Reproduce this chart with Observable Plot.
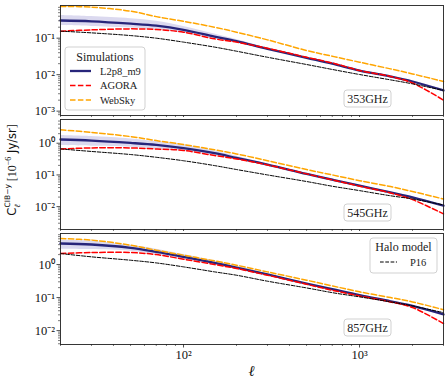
<!DOCTYPE html>
<html><head><meta charset="utf-8">
<script src="https://cdn.jsdelivr.net/npm/d3@7"></script>
<script src="https://cdn.jsdelivr.net/npm/@observablehq/plot@0.6"></script>
<style>
body{margin:0;background:#fff}
#chart{position:relative;width:448px;height:384px;overflow:hidden}
#chart > svg{position:absolute;left:0}
</style>
</head><body><div id="chart"></div>
<script>
// multipole values
const ell = [20,30,50,70,100,150,200,300,500,700,1000,1500,2000,3000];

// 353 GHz
const l2p8_353   = [0.305,0.29,0.25,0.22,0.17,0.111,0.083,0.051,0.029,0.020,0.013,0.0089,0.0065,0.0037];
const l2p8Lo_353 = [0.222,0.21,0.19,0.17,0.137,0.096,0.075,0.049,0.028,0.0192,0.0125,0.0085,0.0062,0.0035];
const l2p8Hi_353 = [0.418,0.39,0.34,0.29,0.21,0.13,0.092,0.053,0.030,0.0208,0.0135,0.0093,0.0068,0.0039];
const agora_353  = [0.156,0.169,0.18,0.173,0.146,0.096,0.078,0.053,0.030,0.021,0.013,0.0089,0.0059,0.0020];
const websky_353 = [0.74,0.71,0.55,0.39,0.29,0.20,0.146,0.090,0.046,0.032,0.022,0.0144,0.0105,0.0065];
const p16_353    = [0.156,0.14,0.118,0.10,0.078,0.057,0.044,0.030,0.019,0.0139,0.0101,0.0072,0.0056,0.0037];

// 545 GHz
const l2p8_545   = [1.31,1.21,1.02,0.885,0.695,0.483,0.344,0.212,0.108,0.071,0.046,0.028,0.0197,0.0107];
const l2p8Lo_545 = [0.84,0.80,0.75,0.66,0.56,0.41,0.30,0.203,0.104,0.068,0.044,0.027,0.0189,0.0103];
const l2p8Hi_545 = [1.75,1.62,1.37,1.13,0.89,0.57,0.39,0.221,0.112,0.074,0.048,0.029,0.0205,0.0111];
const agora_545  = [0.66,0.71,0.71,0.66,0.59,0.41,0.32,0.207,0.108,0.070,0.044,0.027,0.0166,0.0059];
const websky_545 = [2.64,2.2,1.62,1.21,0.91,0.62,0.46,0.28,0.148,0.10,0.066,0.043,0.030,0.0174];
const p16_545    = [0.66,0.55,0.44,0.36,0.28,0.197,0.148,0.10,0.062,0.044,0.032,0.022,0.0175,0.0113];

// 857 GHz
const l2p8_857   = [4.33,4.04,3.2,2.42,1.71,1.12,0.81,0.50,0.265,0.179,0.118,0.077,0.056,0.031];
const l2p8Lo_857 = [2.92,2.85,2.54,2.0,1.45,1.0,0.72,0.48,0.254,0.172,0.113,0.074,0.054,0.0298];
const l2p8Hi_857 = [5.46,5.1,3.85,2.92,2.0,1.29,0.91,0.52,0.276,0.186,0.123,0.080,0.058,0.0322];
const agora_857  = [2.15,2.31,2.31,2.0,1.45,1.0,0.76,0.475,0.253,0.167,0.112,0.074,0.05,0.0163];
const websky_857 = [6.1,5.5,3.85,2.72,1.92,1.29,0.955,0.6,0.335,0.226,0.149,0.10,0.074,0.043];
const p16_857    = [2.15,1.71,1.35,1.12,0.85,0.6,0.475,0.313,0.196,0.141,0.105,0.074,0.056,0.035];

// ticks
const xTicks = [100, 1000];
const xTickLabels = ["10²", "10³"];
const yTicks1 = [0.001, 0.01, 0.1];
const yTickLabels1 = ["10⁻³", "10⁻²", "10⁻¹"];
const yTicks23 = [0.01, 0.1, 1];
const yTickLabels23 = ["10⁻²", "10⁻¹", "10⁰"];

const simNames = ["L2p8_m9", "AGORA", "WebSky"];
const haloNames = ["P16"];

const BLUE = "#27257a";
const SERIF = "'Liberation Serif','Times New Roman',serif";

function logMinors(lo, hi) {
  const out = [];
  for (let e = Math.floor(Math.log10(lo)); e <= Math.ceil(Math.log10(hi)); e++)
    for (let m = 2; m <= 9; m++) { const v = m * Math.pow(10, e); if (v >= lo && v <= hi) out.push(v); }
  return out;
}

const chart = document.getElementById("chart");

function panel(cfg) {
  const data = ell.map((l, i) => ({l, blue: cfg.blue[i], lo: cfg.lo[i], hi: cfg.hi[i],
    agora: cfg.agora[i], websky: cfg.websky[i], p16: cfg.p16[i]}));
  const curve = "catmull-rom";
  const svg = Plot.plot({
    width: 448, height: cfg.height,
    marginLeft: 60, marginRight: 5, marginTop: cfg.mt, marginBottom: cfg.mb,
    x: {type: "log", domain: [20, 3000], axis: null},
    y: {type: "log", domain: cfg.yDomain, axis: null},
    style: {fontFamily: SERIF, fontSize: "12.5px", color: "#111", background: "transparent"},
    marks: [
      Plot.areaY(data, {x: "l", y1: "lo", y2: "hi", fill: "#5b54b8", fillOpacity: 0.22, curve}),
      Plot.lineY(data, {x: "l", y: "blue", stroke: BLUE, strokeWidth: 2.3, curve}),
      Plot.lineY(data, {x: "l", y: "agora", stroke: "#ff0000", strokeWidth: 1.5, strokeDasharray: "5.5,2.4", curve}),
      Plot.lineY(data, {x: "l", y: "websky", stroke: "#ffa500", strokeWidth: 1.5, strokeDasharray: "5.5,2.4", curve}),
      Plot.lineY(data, {x: "l", y: "p16", stroke: "#000", strokeWidth: 1, strokeDasharray: "3.7,1.6", curve}),
      Plot.frame({stroke: "#222", strokeWidth: 0.9}),
      Plot.axisY(cfg.yTicks, {tickSize: 3.5, tickPadding: 2, strokeWidth: 0.8, stroke: "#222",
        tickFormat: d => cfg.yLabels[cfg.yTicks.indexOf(d)], fontSize: 12.5, label: null}),
      Plot.axisY(logMinors(...cfg.yDomain), {tickSize: 2, strokeWidth: 0.6, stroke: "#222", tickFormat: () => "", label: null}),
      Plot.axisX(xTicks, {tickSize: 3.5, tickPadding: 2, strokeWidth: 0.8, stroke: "#222",
        tickFormat: d => cfg.showX ? xTickLabels[xTicks.indexOf(d)] : "", fontSize: 12.5, label: null}),
      Plot.axisX(logMinors(20, 3000), {tickSize: 2, strokeWidth: 0.6, stroke: "#222", tickFormat: () => "", label: null})
    ]
  });
  svg.style.top = cfg.top + "px";
  chart.appendChild(svg);
  const s = d3.select(svg);
  // frequency label box
  const fb = cfg.height - cfg.mb - 16.5;
  const g = s.append("g");
  g.append("rect").attr("x", 344).attr("y", fb - 8.5).attr("width", 47).attr("height", 17).attr("rx", 3)
    .attr("fill", "white").attr("fill-opacity", 0.8).attr("stroke", "#cccccc").attr("stroke-width", 0.9);
  g.append("text").attr("x", 367.5).attr("y", fb).attr("dy", "0.35em").attr("text-anchor", "middle")
    .attr("font-family", SERIF).attr("font-size", 12).attr("fill", "#222").text(cfg.freq);
  return s;
}

// Panel 1
const s1 = panel({top: 0, height: 117, mt: 5, mb: 2, yDomain: [7.6e-4, 0.787], yTicks: yTicks1, yLabels: yTickLabels1,
  blue: l2p8_353, lo: l2p8Lo_353, hi: l2p8Hi_353, agora: agora_353, websky: websky_353, p16: p16_353, freq: "353GHz", showX: false});
// Panel 2
panel({top: 117, height: 114, mt: 2, mb: 2, yDomain: [0.0019, 5.6], yTicks: yTicks23, yLabels: yTickLabels23,
  blue: l2p8_545, lo: l2p8Lo_545, hi: l2p8Hi_545, agora: agora_545, websky: websky_545, p16: p16_545, freq: "545GHz", showX: false});
// Panel 3
const s3 = panel({top: 231, height: 153, mt: 2, mb: 40, yDomain: [0.0038, 8.7], yTicks: yTicks23, yLabels: yTickLabels23,
  blue: l2p8_857, lo: l2p8Lo_857, hi: l2p8Hi_857, agora: agora_857, websky: websky_857, p16: p16_857, freq: "857GHz", showX: true});

// Simulations legend (panel 1)
{
  const g = s1.append("g").attr("font-family", SERIF).attr("fill", "#222");
  g.append("rect").attr("x", 65).attr("y", 47).attr("width", 80).attr("height", 63).attr("rx", 3)
    .attr("fill", "white").attr("fill-opacity", 0.8).attr("stroke", "#cccccc").attr("stroke-width", 0.9);
  g.append("text").attr("x", 105).attr("y", 56.5).attr("dy", "0.35em").attr("text-anchor", "middle")
    .attr("font-size", 12).text("Simulations");
  const styles = [
    {stroke: BLUE, w: 2.3, dash: null},
    {stroke: "#ff0000", w: 1.5, dash: "5.5,2.4"},
    {stroke: "#ffa500", w: 1.5, dash: "5.5,2.4"}
  ];
  const ys = [71, 85.5, 100];
  simNames.forEach((n, i) => {
    const ln = g.append("line").attr("x1", 70).attr("x2", 91).attr("y1", ys[i]).attr("y2", ys[i])
      .attr("stroke", styles[i].stroke).attr("stroke-width", styles[i].w);
    if (styles[i].dash) ln.attr("stroke-dasharray", styles[i].dash);
    g.append("text").attr("x", 100).attr("y", ys[i]).attr("dy", "0.35em").attr("text-anchor", "start")
      .attr("font-size", 10.5).text(n);
  });
}
// Halo model legend (panel 3)
{
  const g = s3.append("g").attr("font-family", SERIF).attr("fill", "#222");
  g.append("rect").attr("x", 370).attr("y", 7).attr("width", 67).attr("height", 35).attr("rx", 3)
    .attr("fill", "white").attr("fill-opacity", 0.8).attr("stroke", "#cccccc").attr("stroke-width", 0.9);
  g.append("text").attr("x", 403.5).attr("y", 16).attr("dy", "0.35em").attr("text-anchor", "middle")
    .attr("font-size", 12).text("Halo model");
  g.append("line").attr("x1", 380).attr("x2", 397).attr("y1", 31).attr("y2", 31)
    .attr("stroke", "#000").attr("stroke-width", 1).attr("stroke-dasharray", "3.7,1.6");
  g.append("text").attr("x", 410).attr("y", 31).attr("dy", "0.35em").attr("text-anchor", "start")
    .attr("font-size", 10.5).text(haloNames[0]);
}

// overlay labels
const ov = d3.select(chart).append("svg").attr("width", 448).attr("height", 384)
  .style("top", "0px").style("pointer-events", "none");
ov.append("text").attr("x", 251.5).attr("y", 371).attr("dy", "0.35em").attr("text-anchor", "middle")
  .attr("font-family", SERIF).attr("font-style", "italic").attr("font-size", 15).attr("fill", "#111").text("ℓ");
{
  const t = ov.append("text").attr("transform", "translate(16,170) rotate(-90)").attr("text-anchor", "middle")
    .attr("font-size", 11.5).attr("fill", "#111");
  const SANS = "'DejaVu Sans',sans-serif";
  t.append("tspan").attr("font-family", SANS).text("C");
  t.append("tspan").attr("font-family", SERIF).attr("font-style", "italic").attr("font-size", 8).attr("dy", 3.5).text("ℓ");
  t.append("tspan").attr("font-family", SANS).attr("font-size", 7.5).attr("dx", -3).attr("dy", -10).text("CIB−y");
  t.append("tspan").attr("font-family", SERIF).attr("font-size", 12).attr("dy", 6.5).text(" [10");
  t.append("tspan").attr("font-family", SERIF).attr("font-size", 8).attr("dy", -5).text("−6");
  t.append("tspan").attr("font-family", SANS).attr("dy", 5).text(" Jy/sr");
  t.append("tspan").attr("font-family", SERIF).attr("font-size", 12).text("]");
}
</script>
</body></html>
